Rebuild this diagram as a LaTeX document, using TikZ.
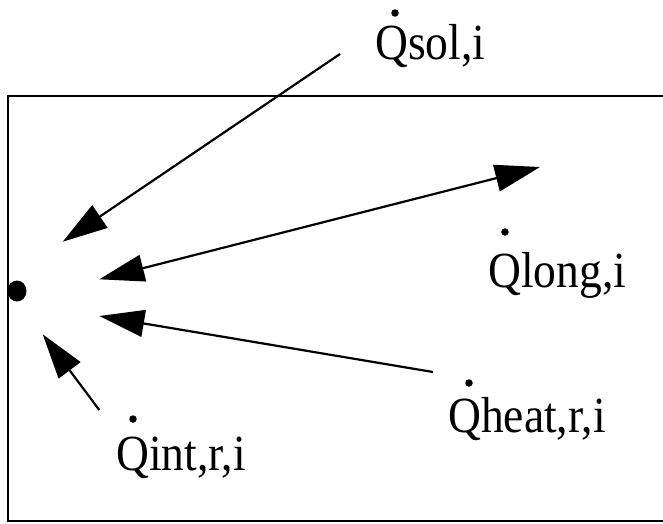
\documentclass[tikz,border=0pt]{standalone}
\usepackage{fontspec}
\setmainfont{Liberation Serif}
\usetikzlibrary{arrows.meta,shapes.geometric}
\newcommand{\tallq}[1]{\scalebox{0.99}[1.1]{#1}}
\begin{document}
\begin{tikzpicture}[x=1pt,y=-1pt,
  lbl/.style={anchor=base west,inner sep=0pt,font=\fontsize{46}{46}\selectfont},
  qdot/.style={circle,fill=black,inner sep=0pt,minimum size=7.5pt},
  flow/.style={line width=2.2pt,-{Triangle[length=45pt,width=27pt]}},
  both/.style={line width=2.2pt,{Triangle[length=45pt,width=27pt]}-{Triangle[length=45pt,width=27pt]}}]
\useasboundingbox (0,0) rectangle (663,523);
% room outline (open to the right)
\draw[line width=2pt] (670,96) -- (8,96) -- (8,521) -- (670,521);
% surface point
\node[ellipse,fill=black,minimum width=19pt,minimum height=21pt,inner sep=0pt] (p) at (17,291) {};
% labels
\node[lbl] (sol) at (375,59) {\tallq{Qsol,i}};
\node[qdot] (dsol) at (395,13) {};
\node[lbl] (long) at (488,287) {\tallq{Qlong,i}};
\node[qdot] (dlong) at (505,232) {};
\node[lbl] (heat) at (448,432) {\tallq{Qheat,r,i}};
\node[qdot] (dheat) at (469,383) {};
\node[lbl] (int) at (116,470) {\tallq{Qint,r,i}};
\node[qdot] (dint) at (133,419) {};
% arrow end points
\coordinate (solA) at (340,54);
\coordinate (solB) at (62.7,241.7);
\coordinate (longA) at (99.3,279.3);
\coordinate (longB) at (540,167);
\coordinate (heatA) at (433,372);
\coordinate (heatB) at (99.3,316);
\coordinate (intA) at (99.3,410);
\coordinate (intB) at (42.7,334.3);
\draw[flow] (solA) -- (solB);
\draw[both] (longA) -- (longB);
\draw[flow] (heatA) -- (heatB);
\draw[flow] (intA) -- (intB);
\end{tikzpicture}
\end{document}
